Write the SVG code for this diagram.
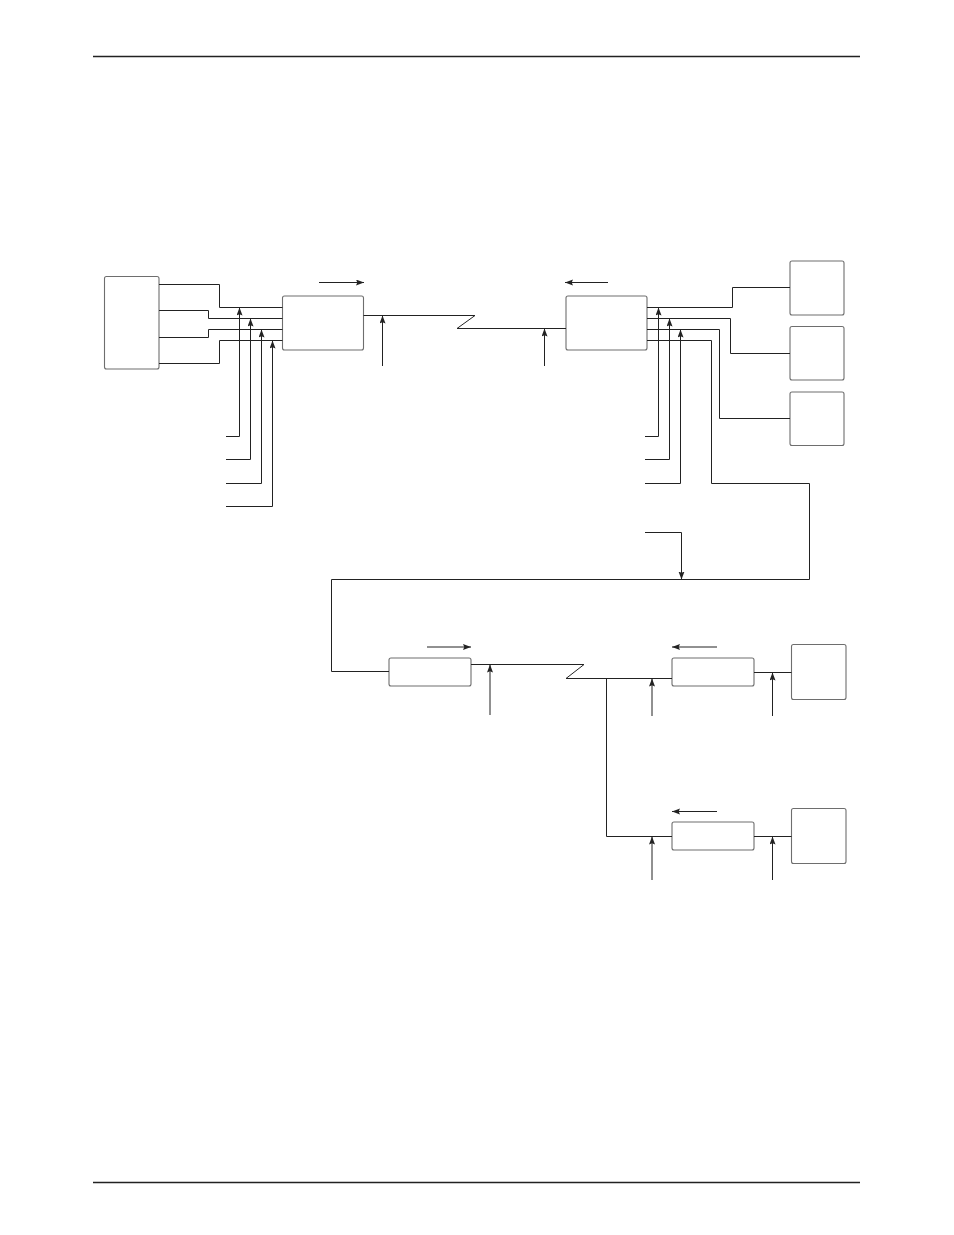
<svg xmlns="http://www.w3.org/2000/svg" width="954" height="1235" viewBox="0 0 954 1235">
<style>
.node{fill:#fff;stroke:#6e6e6e;stroke-width:1.1}
.c{fill:none;stroke:#222;stroke-width:1}
.rule{stroke:#222;stroke-width:1.3}
</style>
<defs>
<marker id="ah" markerUnits="userSpaceOnUse" markerWidth="9" markerHeight="7" refX="8" refY="3" orient="auto">
<path d="M0,0 L8,3 L0,6 L1.3,3 z" fill="#222"/>
</marker>
</defs>
<rect width="954" height="1235" fill="#fff"/>
<line class="rule" x1="93" y1="56.5" x2="860" y2="56.5"/>
<line class="rule" x1="93" y1="1182.5" x2="860" y2="1182.5"/>

<g id="n1"><rect class="node" x="104.5" y="276.5" width="54.5" height="92.5" rx="2"/></g>
<g id="n2"><rect class="node" x="282.5" y="296" width="81" height="54" rx="2"/></g>
<g id="n3"><rect class="node" x="566" y="296" width="81" height="54" rx="2"/></g>
<g id="n4"><rect class="node" x="790" y="261" width="54" height="54" rx="2"/></g>
<g id="n5"><rect class="node" x="790" y="326.5" width="54" height="53.5" rx="2"/></g>
<g id="n6"><rect class="node" x="790" y="392" width="54" height="53.5" rx="2"/></g>
<g id="n7"><rect class="node" x="389" y="658" width="82" height="28" rx="2"/></g>
<g id="n8"><rect class="node" x="672" y="658" width="82" height="28" rx="2"/></g>
<g id="n9"><rect class="node" x="672" y="822" width="82" height="28" rx="2"/></g>
<g id="n10"><rect class="node" x="791.5" y="644.5" width="54.5" height="55" rx="2"/></g>
<g id="n11"><rect class="node" x="791.5" y="808.5" width="54.5" height="55" rx="2"/></g>

<g id="connectors">
<polyline class="c" points="159,284.5 219.5,284.5 219.5,307.5 282.5,307.5"/>
<polyline class="c" points="159,310.5 208.5,310.5 208.5,318.5 282.5,318.5"/>
<polyline class="c" points="159,337.5 208.5,337.5 208.5,329.5 282.5,329.5"/>
<polyline class="c" points="159,363.5 219.5,363.5 219.5,340.5 282.5,340.5"/>
<polyline class="c" points="226,436.5 239.5,436.5 239.5,307.5" marker-end="url(#ah)"/>
<polyline class="c" points="226,459.5 250.5,459.5 250.5,318.5" marker-end="url(#ah)"/>
<polyline class="c" points="226,483.5 261.5,483.5 261.5,329.5" marker-end="url(#ah)"/>
<polyline class="c" points="226,506.5 272.5,506.5 272.5,340.5" marker-end="url(#ah)"/>
<line class="c" x1="319" y1="282.5" x2="364" y2="282.5" marker-end="url(#ah)"/>
<polyline class="c" points="363.5,315.5 475,315.5 457,328.5 566,328.5"/>
<line class="c" x1="382.5" y1="366" x2="382.5" y2="315.5" marker-end="url(#ah)"/>
<line class="c" x1="544.5" y1="366" x2="544.5" y2="328.5" marker-end="url(#ah)"/>
<line class="c" x1="608" y1="282.5" x2="565" y2="282.5" marker-end="url(#ah)"/>
<polyline class="c" points="647,307.5 732.5,307.5 732.5,287.5 790,287.5"/>
<polyline class="c" points="647,318.5 730.5,318.5 730.5,353.5 790,353.5"/>
<polyline class="c" points="647,329.5 719.5,329.5 719.5,418.5 790,418.5"/>
<polyline class="c" points="647,340.5 711.5,340.5 711.5,483.5 809.5,483.5 809.5,579.5 331.5,579.5 331.5,671.5 389,671.5"/>
<polyline class="c" points="645,436.5 658.5,436.5 658.5,307.5" marker-end="url(#ah)"/>
<polyline class="c" points="645,459.5 669.5,459.5 669.5,318.5" marker-end="url(#ah)"/>
<polyline class="c" points="645,483.5 680.5,483.5 680.5,329.5" marker-end="url(#ah)"/>
<polyline class="c" points="645,532.5 681.5,532.5 681.5,579.5" marker-end="url(#ah)"/>
<line class="c" x1="427" y1="647" x2="471" y2="647" marker-end="url(#ah)"/>
<polyline class="c" points="471,664.5 584,664.5 566,678.5 672,678.5"/>
<line class="c" x1="490" y1="715" x2="490" y2="664.5" marker-end="url(#ah)"/>
<polyline class="c" points="606.5,678.5 606.5,836.5 672,836.5"/>
<line class="c" x1="652" y1="716" x2="652" y2="678.5" marker-end="url(#ah)"/>
<line class="c" x1="652" y1="880" x2="652" y2="836.5" marker-end="url(#ah)"/>
<line class="c" x1="717" y1="647" x2="672" y2="647" marker-end="url(#ah)"/>
<line class="c" x1="717" y1="811.5" x2="672" y2="811.5" marker-end="url(#ah)"/>
<line class="c" x1="754" y1="672.5" x2="791.5" y2="672.5"/>
<line class="c" x1="772.5" y1="716" x2="772.5" y2="672.5" marker-end="url(#ah)"/>
<line class="c" x1="754" y1="836.5" x2="791.5" y2="836.5"/>
<line class="c" x1="772.5" y1="880" x2="772.5" y2="836.5" marker-end="url(#ah)"/>
</g>
</svg>
